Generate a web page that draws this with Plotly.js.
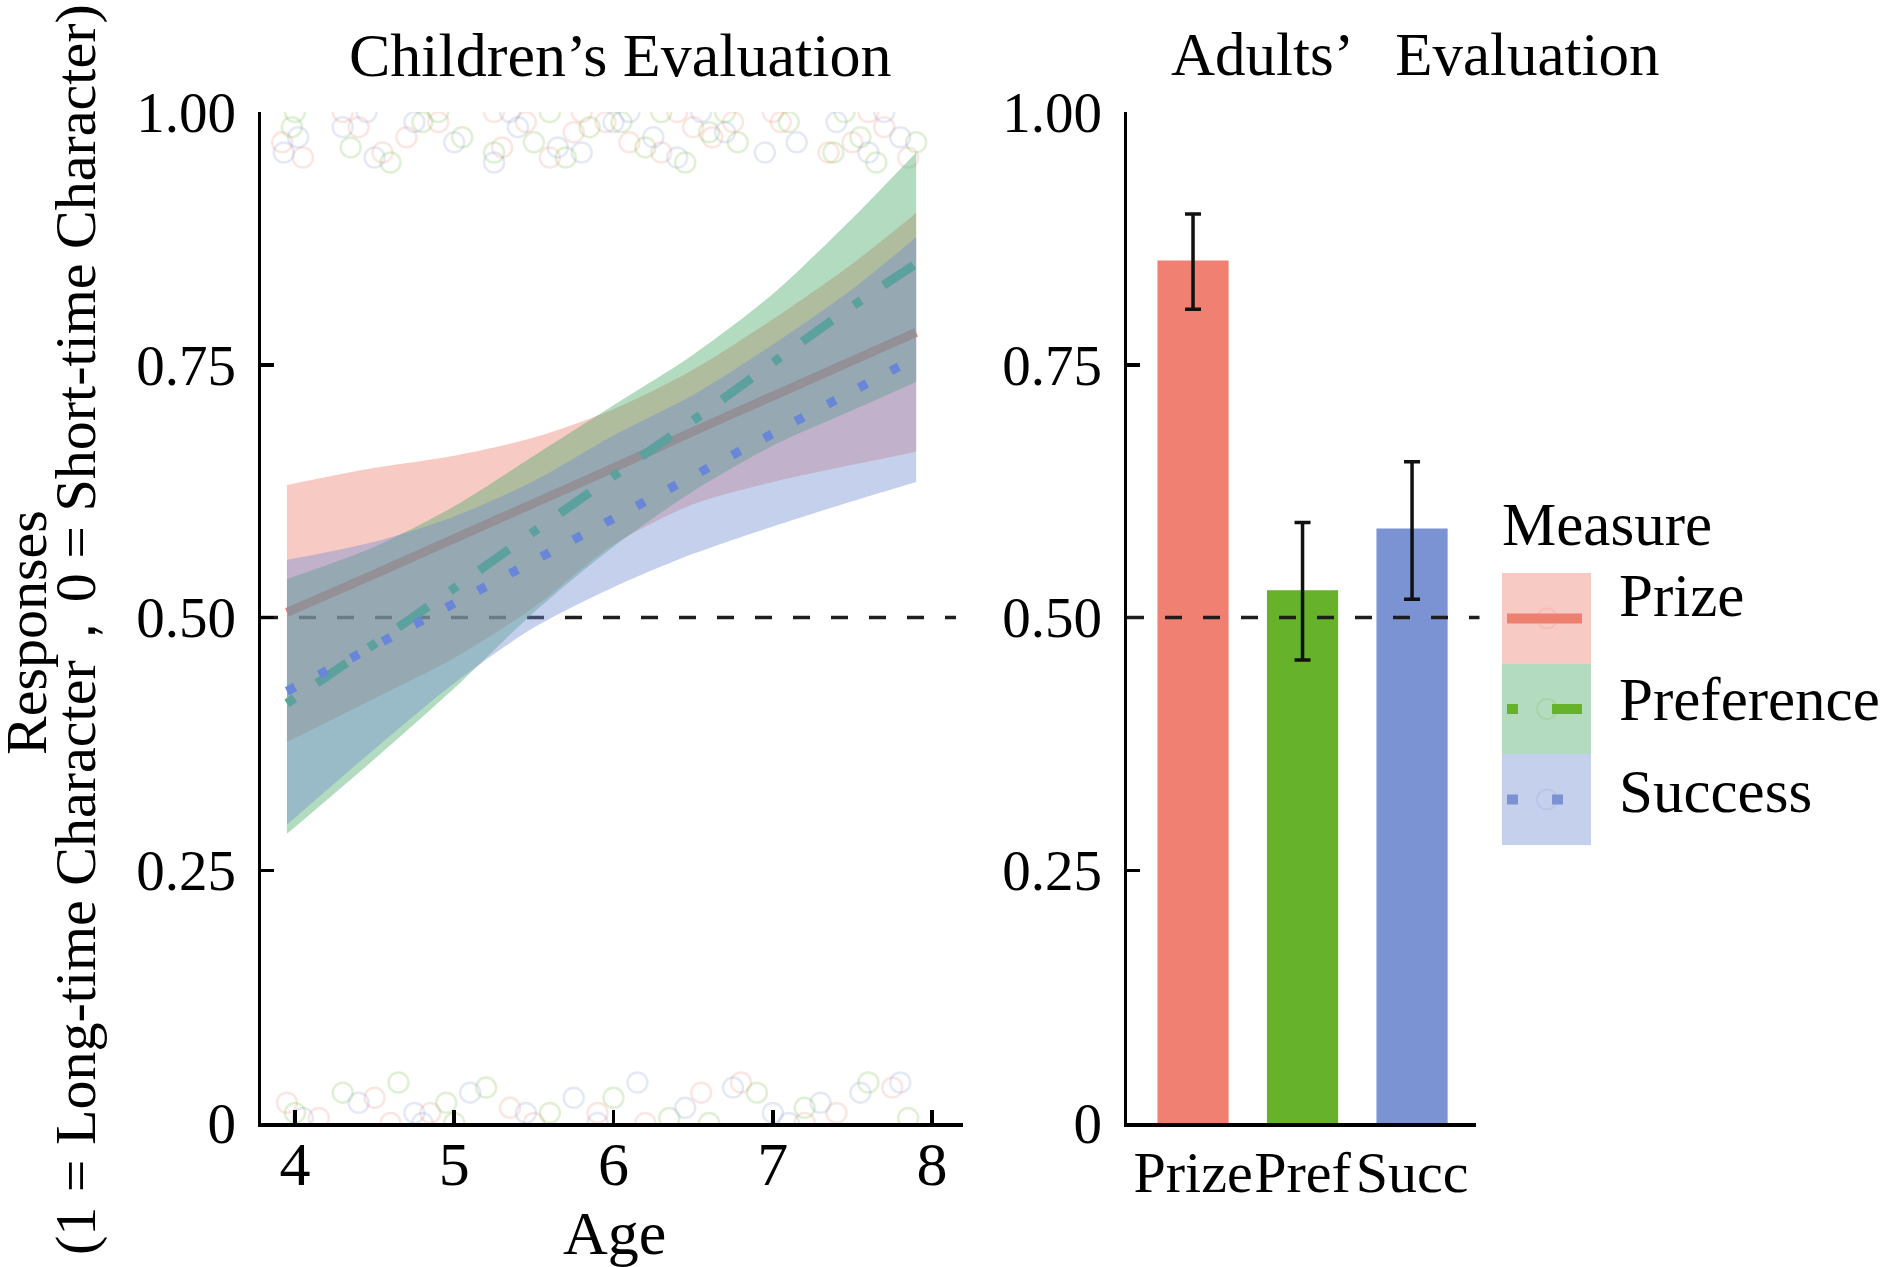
<!DOCTYPE html>
<html><head><meta charset="utf-8">
<script src="https://cdn.plot.ly/plotly-3.0.1.min.js"></script>
<style>html,body{margin:0;padding:0;background:#fff}</style>
</head><body><div id="chart" style="width:1883px;height:1267px"></div>
<script>
// ---------------- Data ----------------
const measures = ['Prize', 'Preference', 'Success'];
const fitAges   = [3.95, 4.5, 5, 5.5, 6, 6.5, 7, 7.5, 7.9];
const prizeFit  = [0.505, 0.543, 0.578, 0.613, 0.648, 0.684, 0.719, 0.754, 0.782];
const prizeLow  = [0.377, 0.42, 0.46, 0.51, 0.572, 0.612, 0.634, 0.651, 0.664];
const prizeHigh = [0.631, 0.648, 0.66, 0.678, 0.706, 0.745, 0.795, 0.85, 0.90];
const prefFit   = [0.415, 0.474, 0.529, 0.585, 0.64, 0.695, 0.752, 0.808, 0.85];
const prefLow   = [0.286, 0.36, 0.43, 0.505, 0.57, 0.625, 0.67, 0.705, 0.733];
const prefHigh  = [0.538, 0.57, 0.61, 0.66, 0.71, 0.76, 0.82, 0.895, 0.96];
const succFit   = [0.427, 0.472, 0.514, 0.556, 0.598, 0.64, 0.682, 0.724, 0.757];
const succLow   = [0.295, 0.37, 0.435, 0.49, 0.53, 0.563, 0.59, 0.615, 0.634];
const succHigh  = [0.557, 0.575, 0.60, 0.635, 0.68, 0.72, 0.77, 0.825, 0.876];

// raw (jittered) child responses
const prizePtAge  = [3.92,4.05,4.4,4.55,4.7,4.9,5.3,5.45,5.6,5.75,5.95,6.1,6.3,6.5,6.62,6.75,7.05,7.35,7.5,7.7,7.85, 4.3,5.25,5.8,6.4,7.0,7.6, 3.95,4.15,4.5,4.85,5.35,5.9,6.55,6.8,7.4,7.75, 4.6,5.5,6.2,7.2];
const prizePtResp = [0.97,0.955,0.985,0.96,0.975,0.99,0.965,0.99,0.955,0.98,0.99,0.97,0.96,0.985,0.975,0.99,0.99,0.96,0.97,0.985,0.955, 1,1,1,1,1,1, 0.02,0.005,0.025,0.01,0.015,0.01,0.03,0.04,0.01,0.035, 0,0,0,0];
const prefPtAge   = [3.98,4.35,4.6,4.8,5.05,5.25,5.5,5.7,5.85,6.05,6.2,6.45,6.6,6.78,7.1,7.38,7.55,7.65,7.9, 4.0,4.9,5.6,6.3,6.7,7.45, 4.0,4.3,4.65,4.95,5.2,5.6,6.0,6.35,6.9,7.2,7.6,7.85, 5.0,6.6];
const prefPtResp  = [0.985,0.965,0.95,0.99,0.975,0.96,0.97,0.955,0.985,0.99,0.965,0.95,0.98,0.97,0.99,0.96,0.975,0.95,0.97, 1,1,1,1,1,1, 0.01,0.03,0.04,0.02,0.035,0.01,0.025,0.005,0.03,0.015,0.04,0.005, 0,0];
const succPtAge   = [3.93,4.02,4.3,4.5,4.75,5.0,5.25,5.4,5.65,5.8,6.0,6.25,6.4,6.7,6.95,7.15,7.4,7.6,7.8, 4.45,5.35,6.1,6.55,7.7, 4.05,4.4,4.75,5.1,5.45,5.75,6.15,6.45,6.75,7.0,7.3,7.55,7.8, 4.8,5.9,7.1];
const succPtResp  = [0.96,0.975,0.985,0.955,0.99,0.97,0.95,0.985,0.965,0.96,0.99,0.975,0.955,0.98,0.96,0.97,0.99,0.96,0.975, 1,1,1,1,1, 0.005,0.02,0.01,0.03,0.01,0.025,0.04,0.015,0.035,0.01,0.02,0.03,0.04, 0,0,0];

// adults
const adultCats    = ['Prize', 'Pref', 'Succ'];
const adultMean    = [0.853, 0.527, 0.588];
const adultErrUp   = [0.046, 0.067, 0.066];
const adultErrDown = [0.048, 0.069, 0.070];

// ticks
const ageTicks   = [4, 5, 6, 7, 8];
const yTickVals  = [0, 0.25, 0.5, 0.75, 1];
const yTickText  = ['0', '0.25', '0.50', '0.75', '1.00'];

// ---------------- Styling ----------------
const W = 1883, H = 1267;
const X = p => p / W, Y = p => 1 - p / H;
const FONT = 'Liberation Serif, Times New Roman, serif';
const lineCol = {Prize: '#EE8070', Preference: '#66B22B', Success: '#7B93D2'};
const fitLineCol = {Prize: '#EE8070', Preference: '#4DAF7A', Success: '#6A86D8'};
const fillCol = {Prize: 'rgba(238,128,114,0.42)', Preference: 'rgba(74,169,105,0.42)', Success: 'rgba(117,143,210,0.42)'};
const dashes  = {Prize: 'solid', Preference: '9px,27px,36px,27px', Success: '9px,27px'};
const fits = {Prize: [prizeFit, prizeLow, prizeHigh], Preference: [prefFit, prefLow, prefHigh], Success: [succFit, succLow, succHigh]};
const pts = {Prize: [prizePtAge, prizePtResp], Preference: [prefPtAge, prefPtResp], Success: [succPtAge, succPtResp]};

const traces = [];
// raw points
measures.forEach(m => traces.push({
  x: pts[m][0], y: pts[m][1], type: 'scatter', mode: 'markers', xaxis: 'x', yaxis: 'y',
  marker: {symbol: 'circle-open', size: 20, color: lineCol[m], opacity: 0.2, line: {width: 2.5}},
  showlegend: false, hoverinfo: 'skip'
}));
// per measure: ribbon (lower, upper filled to it) then fit line, like geom_smooth
measures.forEach(m => {
  traces.push({
    x: fitAges, y: fits[m][1], type: 'scatter', mode: 'lines', xaxis: 'x', yaxis: 'y',
    line: {width: 0, color: 'rgba(0,0,0,0)', shape: 'spline', smoothing: 0.8}, showlegend: false, hoverinfo: 'skip'
  });
  traces.push({
    x: fitAges, y: fits[m][2], type: 'scatter', mode: 'lines', xaxis: 'x', yaxis: 'y',
    fill: 'tonexty', fillcolor: fillCol[m],
    line: {width: 0, color: 'rgba(0,0,0,0)', shape: 'spline', smoothing: 0.8}, showlegend: false, hoverinfo: 'skip'
  });
  traces.push({
    x: fitAges, y: fits[m][0], type: 'scatter', mode: 'lines', xaxis: 'x', yaxis: 'y',
    line: {color: fitLineCol[m], width: 9, dash: dashes[m], shape: 'spline', smoothing: 0.8},
    showlegend: false, hoverinfo: 'skip'
  });
});
// adult bars
traces.push({
  x: adultCats, y: adultMean, type: 'bar', xaxis: 'x2', yaxis: 'y2', width: 0.65,
  marker: {color: ['#EF8072', '#66B22B', '#7B93D2'], line: {width: 0}},
  error_y: {type: 'data', symmetric: false, array: adultErrUp, arrayminus: adultErrDown,
            color: '#111', thickness: 3.5, width: 8},
  showlegend: false, hoverinfo: 'skip'
});

const axisCommon = {
  showline: true, linecolor: '#000', linewidth: 3.5, showgrid: false, zeroline: false,
  ticks: 'inside', ticklen: 13, tickwidth: 3.5, tickcolor: '#000',
  tickfont: {family: FONT, size: 57, color: '#000'}, automargin: false, mirror: false
};

const layout = {
  width: W, height: H, margin: {l: 0, r: 0, t: 0, b: 0},
  paper_bgcolor: '#fff', plot_bgcolor: 'rgba(0,0,0,0)',
  font: {family: FONT, color: '#000'}, showlegend: false,
  xaxis: Object.assign({}, axisCommon, {domain: [X(261), X(963)], range: [3.787, 8.194], anchor: 'y',
    tickvals: ageTicks, ticktext: ageTicks.map(String), ticklabelstandoff: -16, tickangle: 0,
    tickfont: {family: FONT, size: 62, color: '#000'}}),
  yaxis: Object.assign({}, axisCommon, {domain: [1 - 1123 / H, 1 - 112 / H], range: [0, 1], anchor: 'x',
    tickvals: yTickVals, ticktext: yTickText, ticklabelstandoff: 10}),
  xaxis2: Object.assign({}, axisCommon, {domain: [X(1127), X(1476)], range: [-0.603, 2.584], anchor: 'y2',
    type: 'category', ticks: '', tickangle: 0, ticklabelstandoff: -4, tickfont: {family: FONT, size: 58, color: '#000'}}),
  yaxis2: Object.assign({}, axisCommon, {domain: [1 - 1123 / H, 1 - 112 / H], range: [0, 1], anchor: 'x2',
    tickvals: yTickVals, ticktext: yTickText, ticklabelstandoff: 10}),
  shapes: [
    {type: 'line', xref: 'x domain', yref: 'y', x0: 0, x1: 0.99, y0: 0.5, y1: 0.5, layer: 'below',
     line: {color: '#1e1e1e', width: 3.5, dash: '17px,21px'}},
    {type: 'line', xref: 'x2 domain', yref: 'y2', x0: 0, x1: 1.01, y0: 0.5, y1: 0.5, layer: 'above',
     line: {color: '#1e1e1e', width: 3.5, dash: '17px,21px'}},
  ],
  annotations: [
    {text: 'Children’s Evaluation', x: X(620), y: Y(55), xref: 'paper', yref: 'paper', showarrow: false,
     xanchor: 'center', yanchor: 'middle', font: {family: FONT, size: 62, color: '#000'}},
    {text: 'Adults’   Evaluation', x: X(1415), y: Y(55), xref: 'paper', yref: 'paper', showarrow: false,
     xanchor: 'center', yanchor: 'middle', font: {family: FONT, size: 61, color: '#000'}},
    {text: 'Age', x: X(614), y: Y(1233), xref: 'paper', yref: 'paper', showarrow: false,
     xanchor: 'center', yanchor: 'middle', font: {family: FONT, size: 62, color: '#000'}},
    {text: 'Responses', x: X(26), y: Y(633), xref: 'paper', yref: 'paper', showarrow: false, textangle: -90,
     xanchor: 'center', yanchor: 'middle', font: {family: FONT, size: 58, color: '#000'}},
    {text: '(1 = Long-time Character，0 = Short-time Character)', x: X(75), y: Y(630), xref: 'paper', yref: 'paper',
     showarrow: false, textangle: -90, xanchor: 'center', yanchor: 'middle', font: {family: FONT, size: 58, color: '#000'}},
    {text: 'Measure', x: X(1500), y: Y(525), xref: 'paper', yref: 'paper', showarrow: false,
     xanchor: 'left', yanchor: 'middle', font: {family: FONT, size: 61, color: '#000'}},
  ]
};

// manual legend (ggplot-style keys)
const keyTop = [573, 664, 754], keyBot = [664, 754, 845], labY = [595, 699, 791];
const keyDash = {Prize: 'solid', Preference: '11px,34px,44px,34px', Success: '11px,34px'};
measures.forEach((m, i) => {
  layout.shapes.push({type: 'rect', xref: 'paper', yref: 'paper', x0: X(1502), x1: X(1591),
    y0: Y(keyBot[i]), y1: Y(keyTop[i]), fillcolor: fillCol[m], line: {width: 0}, layer: 'above'});
  const cy = (keyTop[i] + keyBot[i]) / 2;
  layout.shapes.push({type: 'circle', xref: 'paper', yref: 'paper', x0: X(1537), x1: X(1557),
    y0: Y(cy + 10), y1: Y(cy - 10), line: {color: lineCol[m], width: 2}, opacity: 0.15, layer: 'above'});
  layout.shapes.push({type: 'line', xref: 'paper', yref: 'paper', x0: X(1507), x1: X(1582),
    y0: Y(cy), y1: Y(cy), line: {color: lineCol[m], width: 10, dash: keyDash[m]}, layer: 'above'});
  layout.annotations.push({text: m, x: X(1617), y: Y(labY[i]), xref: 'paper', yref: 'paper', showarrow: false,
    xanchor: 'left', yanchor: 'middle', font: {family: FONT, size: 61, color: '#000'}});
});

Plotly.newPlot('chart', traces, layout, {staticPlot: true, displayModeBar: false});
</script>
</body></html>
